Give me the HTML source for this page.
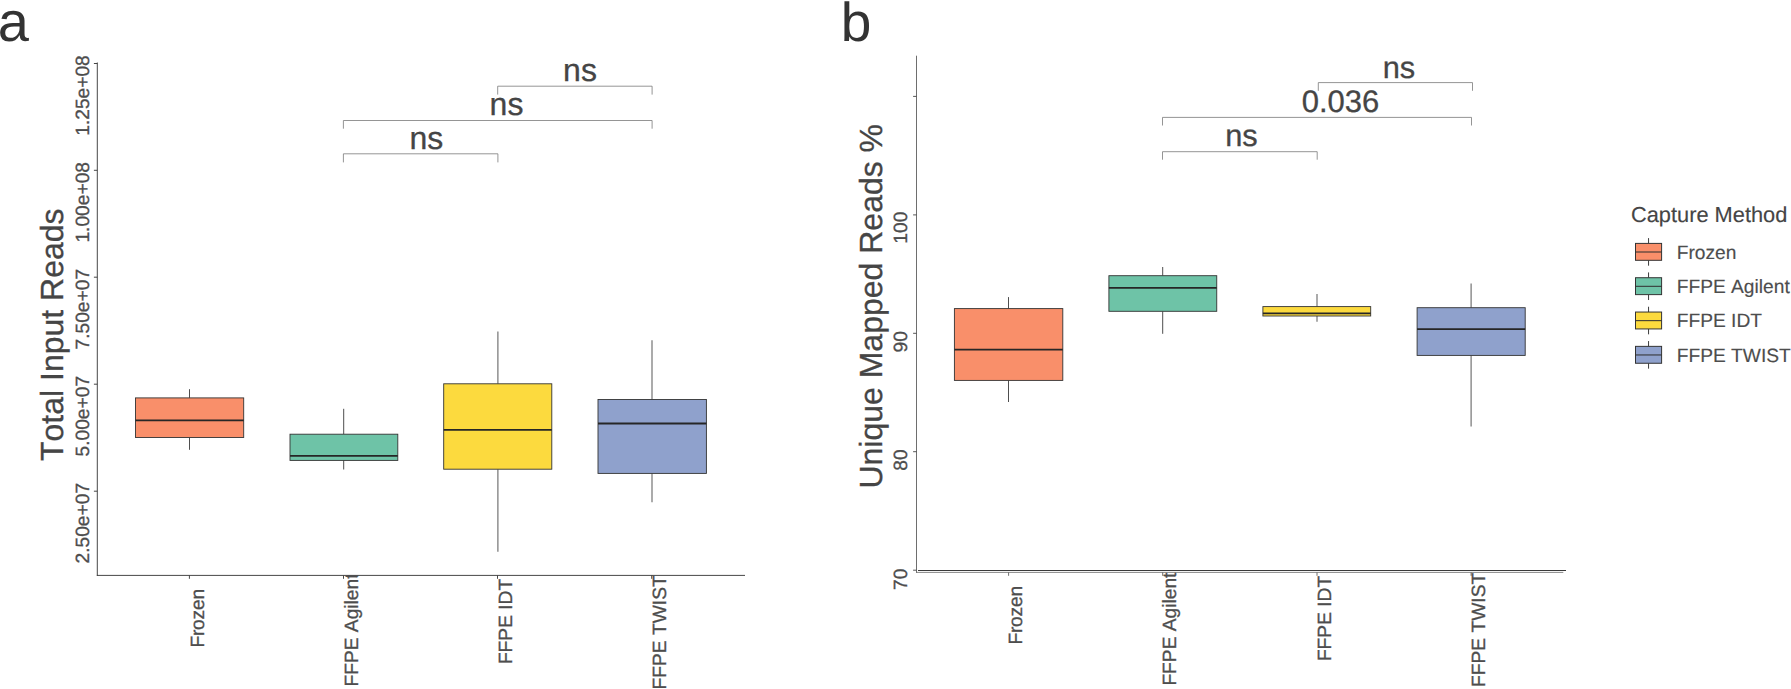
<!DOCTYPE html>
<html lang="en"><head><meta charset="utf-8"><title>Capture Method boxplots</title>
<style>html,body{margin:0;padding:0;background:#fff;}body{width:1791px;height:689px;overflow:hidden;}svg{display:block;font-family:"Liberation Sans", sans-serif;font-kerning:none;text-rendering:geometricPrecision;}</style>
</head><body>
<svg width="1791" height="689" viewBox="0 0 1791 689">
<rect x="0" y="0" width="1791" height="689" fill="#ffffff"/>
<defs><clipPath id="clipA"><rect x="0" y="574.9" width="800" height="120"/></clipPath><clipPath id="clipB"><rect x="800" y="571.9" width="991" height="120"/></clipPath></defs>
<text x="-2.20" y="40.80" font-size="56.00" fill="#333333">a</text>
<text x="840.80" y="40.90" font-size="55.00" fill="#333333">b</text>
<line x1="97.30" y1="62.50" x2="97.30" y2="575.85" stroke="#3d3d3d" stroke-width="0.95"/>
<line x1="96.85" y1="575.40" x2="745.00" y2="575.40" stroke="#3d3d3d" stroke-width="0.95"/>
<line x1="93.90" y1="63.50" x2="97.30" y2="63.50" stroke="#3d3d3d" stroke-width="0.95"/>
<text transform="translate(89.30 55.20) rotate(-90)" font-size="19.20" fill="#4d4d4d" stroke="#4d4d4d" stroke-width="0.3" text-anchor="end">1.25e+08</text>
<line x1="93.90" y1="170.30" x2="97.30" y2="170.30" stroke="#3d3d3d" stroke-width="0.95"/>
<text transform="translate(89.30 162.00) rotate(-90)" font-size="19.20" fill="#4d4d4d" stroke="#4d4d4d" stroke-width="0.3" text-anchor="end">1.00e+08</text>
<line x1="93.90" y1="277.20" x2="97.30" y2="277.20" stroke="#3d3d3d" stroke-width="0.95"/>
<text transform="translate(89.30 268.90) rotate(-90)" font-size="19.20" fill="#4d4d4d" stroke="#4d4d4d" stroke-width="0.3" text-anchor="end">7.50e+07</text>
<line x1="93.90" y1="384.20" x2="97.30" y2="384.20" stroke="#3d3d3d" stroke-width="0.95"/>
<text transform="translate(89.30 375.90) rotate(-90)" font-size="19.20" fill="#4d4d4d" stroke="#4d4d4d" stroke-width="0.3" text-anchor="end">5.00e+07</text>
<line x1="93.90" y1="491.20" x2="97.30" y2="491.20" stroke="#3d3d3d" stroke-width="0.95"/>
<text transform="translate(89.30 482.90) rotate(-90)" font-size="19.20" fill="#4d4d4d" stroke="#4d4d4d" stroke-width="0.3" text-anchor="end">2.50e+07</text>
<line x1="189.40" y1="575.40" x2="189.40" y2="578.80" stroke="#3d3d3d" stroke-width="0.95"/>
<line x1="343.50" y1="575.40" x2="343.50" y2="578.80" stroke="#3d3d3d" stroke-width="0.95"/>
<line x1="497.50" y1="575.40" x2="497.50" y2="578.80" stroke="#3d3d3d" stroke-width="0.95"/>
<line x1="651.70" y1="575.40" x2="651.70" y2="578.80" stroke="#3d3d3d" stroke-width="0.95"/>
<text transform="translate(62.90 461.00) rotate(-90)" font-size="32.00" fill="#454545" stroke="#454545" stroke-width="0.3" text-anchor="start">Total Input Reads</text>
<text transform="translate(204.30 647.60) rotate(-90)" font-size="19.20" fill="#4d4d4d" stroke="#4d4d4d" stroke-width="0.3" text-anchor="start" letter-spacing="-0.20">Frozen</text>
<g clip-path="url(#clipA)">
<text transform="translate(357.90 686.50) rotate(-90)" font-size="19.20" fill="#4d4d4d" stroke="#4d4d4d" stroke-width="0.3" text-anchor="start">FFPE Agilent</text>
</g>
<text transform="translate(511.90 664.10) rotate(-90)" font-size="19.20" fill="#4d4d4d" stroke="#4d4d4d" stroke-width="0.3" text-anchor="start">FFPE IDT</text>
<g clip-path="url(#clipA)">
<text transform="translate(665.70 689.40) rotate(-90)" font-size="19.20" fill="#4d4d4d" stroke="#4d4d4d" stroke-width="0.3" text-anchor="start">FFPE TWIST</text>
</g>
<line x1="189.50" y1="389.20" x2="189.50" y2="397.90" stroke="#444444" stroke-width="0.95"/>
<line x1="189.50" y1="437.50" x2="189.50" y2="449.80" stroke="#444444" stroke-width="0.95"/>
<rect x="135.50" y="397.90" width="108.20" height="39.60" fill="#F98F6A" stroke="#333333" stroke-width="0.90"/>
<line x1="135.50" y1="420.40" x2="243.70" y2="420.40" stroke="#262626" stroke-width="1.80"/>
<line x1="343.70" y1="408.80" x2="343.70" y2="434.20" stroke="#444444" stroke-width="0.95"/>
<line x1="343.70" y1="460.40" x2="343.70" y2="469.50" stroke="#444444" stroke-width="0.95"/>
<rect x="290.00" y="434.20" width="107.80" height="26.20" fill="#6EC3A7" stroke="#333333" stroke-width="0.90"/>
<line x1="290.00" y1="455.80" x2="397.80" y2="455.80" stroke="#262626" stroke-width="1.80"/>
<line x1="497.90" y1="331.50" x2="497.90" y2="383.80" stroke="#666666" stroke-width="1.10"/>
<line x1="497.90" y1="469.20" x2="497.90" y2="551.80" stroke="#666666" stroke-width="1.10"/>
<rect x="443.70" y="383.80" width="108.10" height="85.40" fill="#FCDA3E" stroke="#333333" stroke-width="0.90"/>
<line x1="443.70" y1="429.80" x2="551.80" y2="429.80" stroke="#262626" stroke-width="1.80"/>
<line x1="652.00" y1="340.20" x2="652.00" y2="399.50" stroke="#666666" stroke-width="1.10"/>
<line x1="652.00" y1="473.40" x2="652.00" y2="502.30" stroke="#666666" stroke-width="1.10"/>
<rect x="598.00" y="399.50" width="108.40" height="73.90" fill="#8FA1CC" stroke="#333333" stroke-width="0.90"/>
<line x1="598.00" y1="423.50" x2="706.40" y2="423.50" stroke="#262626" stroke-width="1.80"/>
<path d="M343.40 162.40 V153.80 H497.90 V162.40" fill="none" stroke="#7a7a7a" stroke-width="0.80"/>
<path d="M343.40 128.70 V120.50 H652.10 V128.70" fill="none" stroke="#7a7a7a" stroke-width="0.80"/>
<path d="M497.70 94.60 V86.20 H652.10 V94.60" fill="none" stroke="#7a7a7a" stroke-width="0.80"/>
<text x="426.30" y="148.50" font-size="32.00" fill="#454545" stroke="#454545" stroke-width="0.3" text-anchor="middle">ns</text>
<text x="506.50" y="114.70" font-size="32.00" fill="#454545" stroke="#454545" stroke-width="0.3" text-anchor="middle">ns</text>
<text x="580.00" y="80.60" font-size="32.00" fill="#454545" stroke="#454545" stroke-width="0.3" text-anchor="middle">ns</text>
<line x1="916.50" y1="55.70" x2="916.50" y2="572.80" stroke="#5e5e5e" stroke-width="0.90"/>
<line x1="916.10" y1="572.40" x2="1563.30" y2="572.40" stroke="#6a6a6a" stroke-width="0.80"/>
<line x1="918.00" y1="570.45" x2="1566.00" y2="570.45" stroke="#3a3a3a" stroke-width="1.10"/>
<line x1="913.10" y1="96.40" x2="916.50" y2="96.40" stroke="#444444" stroke-width="0.90"/>
<line x1="913.10" y1="214.90" x2="916.50" y2="214.90" stroke="#444444" stroke-width="0.90"/>
<text transform="translate(907.40 211.70) rotate(-90)" font-size="19.20" fill="#4d4d4d" stroke="#4d4d4d" stroke-width="0.3" text-anchor="end">100</text>
<line x1="913.10" y1="333.30" x2="916.50" y2="333.30" stroke="#444444" stroke-width="0.90"/>
<text transform="translate(907.40 331.20) rotate(-90)" font-size="19.20" fill="#4d4d4d" stroke="#4d4d4d" stroke-width="0.3" text-anchor="end">90</text>
<line x1="913.10" y1="451.70" x2="916.50" y2="451.70" stroke="#444444" stroke-width="0.90"/>
<text transform="translate(907.40 449.40) rotate(-90)" font-size="19.20" fill="#4d4d4d" stroke="#4d4d4d" stroke-width="0.3" text-anchor="end">80</text>
<line x1="913.10" y1="570.20" x2="916.50" y2="570.20" stroke="#444444" stroke-width="0.90"/>
<text transform="translate(907.40 568.70) rotate(-90)" font-size="19.20" fill="#4d4d4d" stroke="#4d4d4d" stroke-width="0.3" text-anchor="end">70</text>
<line x1="1008.60" y1="572.40" x2="1008.60" y2="575.80" stroke="#5e5e5e" stroke-width="0.90"/>
<line x1="1162.70" y1="572.40" x2="1162.70" y2="575.80" stroke="#5e5e5e" stroke-width="0.90"/>
<line x1="1317.00" y1="572.40" x2="1317.00" y2="575.80" stroke="#5e5e5e" stroke-width="0.90"/>
<line x1="1471.10" y1="572.40" x2="1471.10" y2="575.80" stroke="#5e5e5e" stroke-width="0.90"/>
<text transform="translate(882.00 488.60) rotate(-90)" font-size="32.00" fill="#454545" stroke="#454545" stroke-width="0.3" text-anchor="start">Unique Mapped Reads %</text>
<text transform="translate(1021.90 644.60) rotate(-90)" font-size="19.20" fill="#4d4d4d" stroke="#4d4d4d" stroke-width="0.3" text-anchor="start" letter-spacing="-0.20">Frozen</text>
<g clip-path="url(#clipB)">
<text transform="translate(1176.30 685.60) rotate(-90)" font-size="19.20" fill="#4d4d4d" stroke="#4d4d4d" stroke-width="0.3" text-anchor="start">FFPE Agilent</text>
</g>
<text transform="translate(1331.20 661.10) rotate(-90)" font-size="19.20" fill="#4d4d4d" stroke="#4d4d4d" stroke-width="0.3" text-anchor="start">FFPE IDT</text>
<g clip-path="url(#clipB)">
<text transform="translate(1484.70 686.90) rotate(-90)" font-size="19.20" fill="#4d4d4d" stroke="#4d4d4d" stroke-width="0.3" text-anchor="start">FFPE TWIST</text>
</g>
<line x1="1008.50" y1="297.10" x2="1008.50" y2="308.60" stroke="#444444" stroke-width="0.95"/>
<line x1="1008.50" y1="380.40" x2="1008.50" y2="402.00" stroke="#444444" stroke-width="0.95"/>
<rect x="954.40" y="308.60" width="108.40" height="71.80" fill="#F98F6A" stroke="#333333" stroke-width="0.90"/>
<line x1="954.40" y1="349.70" x2="1062.80" y2="349.70" stroke="#262626" stroke-width="1.80"/>
<line x1="1162.70" y1="267.00" x2="1162.70" y2="275.70" stroke="#444444" stroke-width="0.95"/>
<line x1="1162.70" y1="311.30" x2="1162.70" y2="333.80" stroke="#444444" stroke-width="0.95"/>
<rect x="1108.90" y="275.70" width="107.85" height="35.60" fill="#6EC3A7" stroke="#333333" stroke-width="0.90"/>
<line x1="1108.90" y1="287.90" x2="1216.75" y2="287.90" stroke="#262626" stroke-width="1.80"/>
<line x1="1317.00" y1="294.00" x2="1317.00" y2="306.60" stroke="#666666" stroke-width="1.10"/>
<line x1="1317.00" y1="316.00" x2="1317.00" y2="321.70" stroke="#666666" stroke-width="1.10"/>
<rect x="1262.90" y="306.60" width="107.80" height="9.40" fill="#FCDA3E" stroke="#333333" stroke-width="0.90"/>
<line x1="1262.90" y1="313.30" x2="1370.70" y2="313.30" stroke="#262626" stroke-width="1.80"/>
<line x1="1471.10" y1="283.40" x2="1471.10" y2="307.70" stroke="#666666" stroke-width="1.10"/>
<line x1="1471.10" y1="355.40" x2="1471.10" y2="426.60" stroke="#666666" stroke-width="1.10"/>
<rect x="1417.10" y="307.70" width="108.10" height="47.70" fill="#8FA1CC" stroke="#333333" stroke-width="0.90"/>
<line x1="1417.10" y1="329.20" x2="1525.20" y2="329.20" stroke="#262626" stroke-width="1.80"/>
<path d="M1162.50 159.70 V151.70 H1317.20 V159.70" fill="none" stroke="#7a7a7a" stroke-width="0.80"/>
<path d="M1162.50 125.50 V117.40 H1471.50 V125.50" fill="none" stroke="#7a7a7a" stroke-width="0.80"/>
<path d="M1318.30 90.80 V82.60 H1472.50 V90.80" fill="none" stroke="#7a7a7a" stroke-width="0.80"/>
<text x="1241.50" y="145.70" font-size="30.80" fill="#454545" stroke="#454545" stroke-width="0.3" text-anchor="middle">ns</text>
<text x="1340.50" y="111.90" font-size="31.00" fill="#454545" stroke="#454545" stroke-width="0.3" text-anchor="middle">0.036</text>
<text x="1398.90" y="77.70" font-size="30.80" fill="#454545" stroke="#454545" stroke-width="0.3" text-anchor="middle">ns</text>
<text x="1631.00" y="221.90" font-size="21.80" fill="#454545" stroke="#454545" stroke-width="0.15">Capture Method</text>
<line x1="1648.55" y1="238.10" x2="1648.55" y2="243.40" stroke="#333333" stroke-width="0.95"/>
<line x1="1648.55" y1="260.30" x2="1648.55" y2="265.70" stroke="#333333" stroke-width="0.95"/>
<rect x="1635.5" y="243.40" width="26.1" height="16.9" fill="#F98F6A" stroke="#333333" stroke-width="1"/>
<line x1="1635.50" y1="252.00" x2="1661.60" y2="252.00" stroke="#333333" stroke-width="1.05"/>
<text x="1676.70" y="258.70" font-size="19.20" fill="#4d4d4d" stroke="#4d4d4d" stroke-width="0.15">Frozen</text>
<line x1="1648.55" y1="272.42" x2="1648.55" y2="277.72" stroke="#333333" stroke-width="0.95"/>
<line x1="1648.55" y1="294.62" x2="1648.55" y2="300.02" stroke="#333333" stroke-width="0.95"/>
<rect x="1635.5" y="277.72" width="26.1" height="16.9" fill="#6EC3A7" stroke="#333333" stroke-width="1"/>
<line x1="1635.50" y1="286.32" x2="1661.60" y2="286.32" stroke="#333333" stroke-width="1.05"/>
<text x="1676.70" y="293.02" font-size="19.20" fill="#4d4d4d" stroke="#4d4d4d" stroke-width="0.15">FFPE Agilent</text>
<line x1="1648.55" y1="306.74" x2="1648.55" y2="312.04" stroke="#333333" stroke-width="0.95"/>
<line x1="1648.55" y1="328.94" x2="1648.55" y2="334.34" stroke="#333333" stroke-width="0.95"/>
<rect x="1635.5" y="312.04" width="26.1" height="16.9" fill="#FCDA3E" stroke="#333333" stroke-width="1"/>
<line x1="1635.50" y1="320.64" x2="1661.60" y2="320.64" stroke="#333333" stroke-width="1.05"/>
<text x="1676.70" y="327.34" font-size="19.20" fill="#4d4d4d" stroke="#4d4d4d" stroke-width="0.15">FFPE IDT</text>
<line x1="1648.55" y1="341.06" x2="1648.55" y2="346.36" stroke="#333333" stroke-width="0.95"/>
<line x1="1648.55" y1="363.26" x2="1648.55" y2="368.66" stroke="#333333" stroke-width="0.95"/>
<rect x="1635.5" y="346.36" width="26.1" height="16.9" fill="#8FA1CC" stroke="#333333" stroke-width="1"/>
<line x1="1635.50" y1="354.96" x2="1661.60" y2="354.96" stroke="#333333" stroke-width="1.05"/>
<text x="1676.70" y="361.66" font-size="19.20" fill="#4d4d4d" stroke="#4d4d4d" stroke-width="0.15">FFPE TWIST</text>
</svg>
</body></html>
